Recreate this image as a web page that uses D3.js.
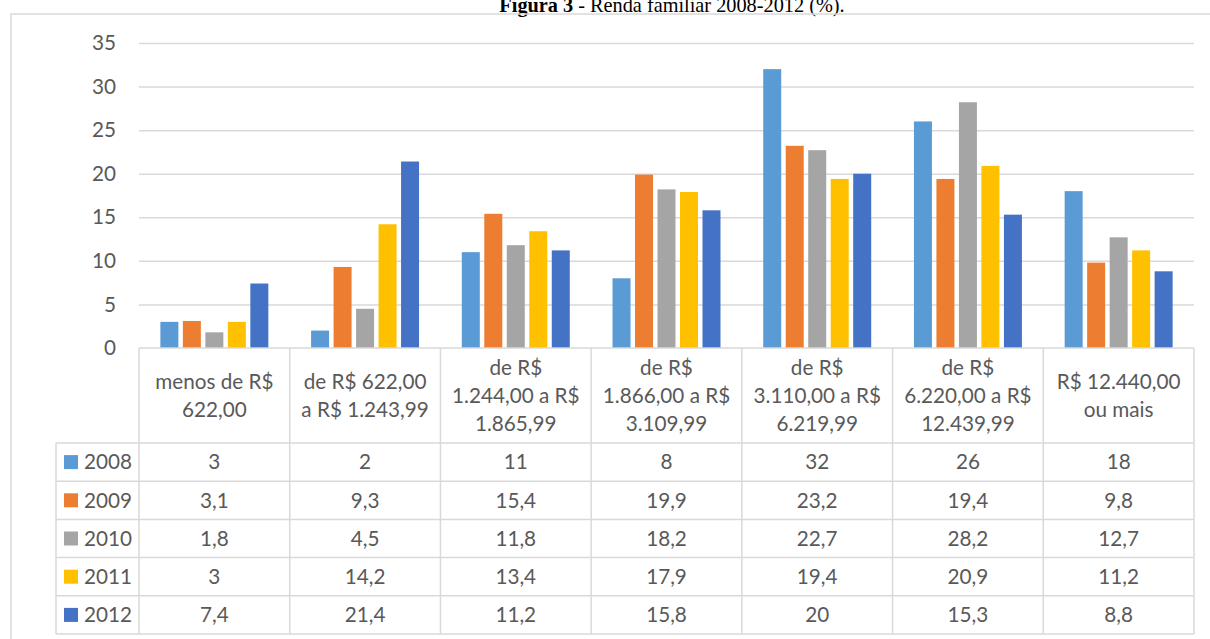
<!DOCTYPE html>
<html>
<head>
<meta charset="utf-8">
<script src="https://cdn.jsdelivr.net/npm/d3@7"></script>
<style>
  html, body { margin: 0; padding: 0; background: #fff; }
  svg { display: block; }
</style>
</head>
<body>
<svg id="chart" width="1210" height="639"></svg>
<script>
// Income brackets (category axis, one table column each)
const categories = [
  ["menos de R$", "622,00"],
  ["de R$ 622,00", "a R$ 1.243,99"],
  ["de R$", "1.244,00 a R$", "1.865,99"],
  ["de R$", "1.866,00 a R$", "3.109,99"],
  ["de R$", "3.110,00 a R$", "6.219,99"],
  ["de R$", "6.220,00 a R$", "12.439,99"],
  ["R$ 12.440,00", "ou mais"]
];

const years = ["2008", "2009", "2010", "2011", "2012"];

// Share of families per bracket (%), one array per year
const v2008 = [3, 2, 11, 8, 32, 26, 18];
const v2009 = [3.1, 9.3, 15.4, 19.9, 23.2, 19.4, 9.8];
const v2010 = [1.8, 4.5, 11.8, 18.2, 22.7, 28.2, 12.7];
const v2011 = [3, 14.2, 13.4, 17.9, 19.4, 20.9, 11.2];
const v2012 = [7.4, 21.4, 11.2, 15.8, 20, 15.3, 8.8];

const yTicks = [0, 5, 10, 15, 20, 25, 30, 35];

const series = [v2008, v2009, v2010, v2011, v2012];
const colors = ["#5B9BD5", "#ED7D31", "#A5A5A5", "#FFC000", "#4472C4"];

const svg = d3.select("#chart");
const font = "Lato, 'Open Sans', sans-serif";
const fontSize = 20.7;
const textColor = "#595959";
const lineColor = "#D9D9D9";

// Plot geometry
const plotLeft = 139, plotRight = 1194, plotTop = 43, plotBase = 348;
const headerBottom = 443, rowH = 38.2, legendLeft = 56;

const x = d3.scaleBand().domain(d3.range(categories.length)).range([plotLeft, plotRight]).padding(0);
const y = d3.scaleLinear().domain([0, 35]).range([plotBase, plotTop]);
const inner = d3.scaleBand().domain(d3.range(years.length))
  .range([0, x.bandwidth()]).paddingInner(0.2).paddingOuter(0.95);

// Title, sitting right against the top edge of the page
const title = svg.append("text")
  .attr("x", 672).attr("y", 12)
  .attr("text-anchor", "middle")
  .attr("font-family", "'Liberation Serif', 'Times New Roman', serif")
  .attr("font-size", 20.3).attr("fill", "#000");
title.append("tspan").attr("font-weight", "bold").text("Figura 3");
title.append("tspan").text(" - Renda familiar 2008-2012 (%).");

// Chart frame
svg.append("rect")
  .attr("x", 11).attr("y", 14).attr("width", 1260).attr("height", 700)
  .attr("fill", "none").attr("stroke", lineColor).attr("stroke-width", 1.5);

// Gridlines and y labels
const yAxis = d3.axisLeft(y).tickValues(yTicks).tickSize(-(plotRight - plotLeft)).tickPadding(23);
const gy = svg.append("g").attr("transform", `translate(${plotLeft},0)`).call(yAxis);
gy.select(".domain").remove();
gy.selectAll(".tick line").attr("stroke", lineColor).attr("stroke-width", 1.5)
  .filter(d => d === 0).remove();
gy.selectAll(".tick text")
  .attr("font-family", font).attr("font-size", fontSize).attr("fill", textColor);

// Bars
series.forEach((vals, si) => {
  svg.append("g").selectAll("rect")
    .data(vals)
    .join("rect")
    .attr("x", (d, i) => x(i) + inner(si))
    .attr("width", inner.bandwidth())
    .attr("y", d => y(d))
    .attr("height", d => y(0) - y(d))
    .attr("fill", colors[si]);
});

// Data table
const tbl = svg.append("g")
  .attr("stroke", lineColor).attr("stroke-width", 1.5).attr("fill", "none");
const tableBottom = headerBottom + rowH * years.length;
// top (category axis) line
tbl.append("line").attr("x1", plotLeft).attr("x2", plotRight).attr("y1", plotBase).attr("y2", plotBase);
// column separators
x.domain().concat([categories.length]).forEach(i => {
  const xx = i < categories.length ? x(i) : plotRight;
  tbl.append("line").attr("x1", xx).attr("x2", xx).attr("y1", plotBase).attr("y2", tableBottom);
});
// row lines
d3.range(years.length + 1).forEach(r => {
  const yy = headerBottom + r * rowH;
  tbl.append("line").attr("x1", legendLeft).attr("x2", plotRight).attr("y1", yy).attr("y2", yy);
});
tbl.append("line").attr("x1", legendLeft).attr("x2", legendLeft)
  .attr("y1", headerBottom).attr("y2", tableBottom);

// Category headers
const lineH = 28;
categories.forEach((lines, i) => {
  const cy = (plotBase + headerBottom) / 2;
  const t = svg.append("text")
    .attr("text-anchor", "middle")
    .attr("font-family", font).attr("font-size", fontSize).attr("fill", textColor);
  lines.forEach((ln, k) => {
    t.append("tspan")
      .attr("x", x(i) + x.bandwidth() / 2)
      .attr("y", cy + (k - (lines.length - 1) / 2) * lineH)
      .attr("dy", "0.35em")
      .text(ln);
  });
});

// Legend keys and values
const fmt = v => String(v).replace(".", ",");
years.forEach((yr, r) => {
  const cy = headerBottom + r * rowH + rowH / 2;
  svg.append("rect").attr("x", 64).attr("y", cy - 7).attr("width", 14).attr("height", 14)
    .attr("fill", colors[r]);
  svg.append("text").attr("x", 84).attr("y", cy).attr("dy", "0.35em")
    .attr("font-family", font).attr("font-size", fontSize).attr("fill", textColor)
    .text(yr);
  svg.append("g").selectAll("text")
    .data(series[r])
    .join("text")
    .attr("x", (d, i) => x(i) + x.bandwidth() / 2)
    .attr("y", cy).attr("dy", "0.35em")
    .attr("text-anchor", "middle")
    .attr("font-family", font).attr("font-size", fontSize).attr("fill", textColor)
    .text(d => fmt(d));
});
</script>
</body>
</html>
